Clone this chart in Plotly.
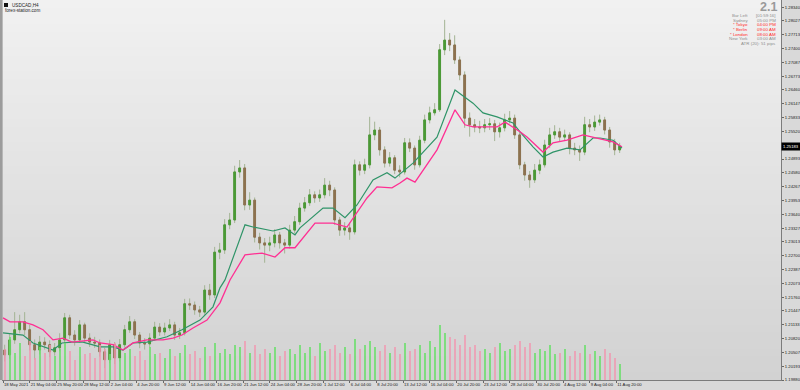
import plotly.graph_objects as go

# ---------------- data ----------------
opens = [1.2056, 1.2045, 1.2079, 1.2102, 1.2120, 1.2102, 1.2068, 1.2056, 1.2074, 1.2068,
         1.2052, 1.2061, 1.2079, 1.2129, 1.2090, 1.2079, 1.2113, 1.2083, 1.2074, 1.2072,
         1.2052, 1.2034, 1.2068, 1.2038, 1.2068, 1.2102, 1.2120, 1.2090, 1.2072, 1.2070,
         1.2083, 1.2108, 1.2097, 1.2106, 1.2113, 1.2090, 1.2095, 1.2161, 1.2158, 1.2147,
         1.2142, 1.2192, 1.2181, 1.2278, 1.2283, 1.2340, 1.2351, 1.2460, 1.2469, 1.2385,
         1.2396, 1.2312, 1.2299, 1.2294, 1.2299, 1.2317, 1.2299, 1.2294, 1.2328, 1.2347,
         1.2378, 1.2390, 1.2408, 1.2401, 1.2408, 1.2430, 1.2419, 1.2351, 1.2328, 1.2333,
         1.2324, 1.2476, 1.2464, 1.2476, 1.2544, 1.2555, 1.2510, 1.2480, 1.2492, 1.2464,
         1.2460, 1.2526, 1.2514, 1.2476, 1.2532, 1.2578, 1.2594, 1.2601, 1.2737, 1.2759,
         1.2748, 1.2714, 1.2680, 1.2582, 1.2567, 1.2562, 1.2560, 1.2567, 1.2569, 1.2551,
         1.2560, 1.2578, 1.2582, 1.2544, 1.2476, 1.2453, 1.2442, 1.2464, 1.2476, 1.2521,
         1.2544, 1.2551, 1.2539, 1.2544, 1.2514, 1.2510, 1.2505, 1.2567, 1.2562, 1.2573,
         1.2578, 1.2555, 1.2528, 1.2510]

highs = [1.2068, 1.2092, 1.2142, 1.2136, 1.2142, 1.2113, 1.2080, 1.2088, 1.2085, 1.2078,
         1.2072, 1.2094, 1.2140, 1.2136, 1.2101, 1.2124, 1.2118, 1.2094, 1.2086, 1.2080,
         1.2061, 1.2079, 1.2074, 1.2081, 1.2113, 1.2133, 1.2126, 1.2097, 1.2083, 1.2094,
         1.2120, 1.2117, 1.2118, 1.2126, 1.2120, 1.2106, 1.2172, 1.2173, 1.2166, 1.2156,
         1.2203, 1.2206, 1.2290, 1.2299, 1.2353, 1.2367, 1.2474, 1.2487, 1.2478, 1.2414,
         1.2402, 1.2322, 1.2310, 1.2313, 1.2330, 1.2324, 1.2308, 1.2340, 1.2360, 1.2390,
         1.2403, 1.2421, 1.2416, 1.2420, 1.2446, 1.2440, 1.2425, 1.2358, 1.2346, 1.2345,
         1.2488, 1.2484, 1.2490, 1.2585, 1.2574, 1.2562, 1.2518, 1.2505, 1.2498, 1.2475,
         1.2537, 1.2536, 1.2520, 1.2542, 1.2590, 1.2608, 1.2616, 1.2750, 1.2805, 1.2775,
         1.2770, 1.2722, 1.2688, 1.2595, 1.2580, 1.2576, 1.2580, 1.2582, 1.2578, 1.2572,
         1.2592, 1.2598, 1.2590, 1.2550, 1.2483, 1.2462, 1.2478, 1.2488, 1.2533, 1.2560,
         1.2566, 1.2560, 1.2556, 1.2550, 1.2526, 1.2520, 1.2585, 1.2580, 1.2588, 1.2590,
         1.2585, 1.2562, 1.2535, 1.2526]

lows = [1.2030, 1.2036, 1.2070, 1.2094, 1.2090, 1.2055, 1.2034, 1.2046, 1.2057, 1.2040,
        1.2043, 1.2053, 1.2072, 1.2081, 1.2066, 1.2072, 1.2074, 1.2063, 1.2061, 1.2041,
        1.2015, 1.2026, 1.2024, 1.2030, 1.2061, 1.2095, 1.2081, 1.2060, 1.2057, 1.2062,
        1.2077, 1.2088, 1.2089, 1.2099, 1.2079, 1.2081, 1.2089, 1.2147, 1.2136, 1.2131,
        1.2136, 1.2170, 1.2174, 1.2262, 1.2274, 1.2330, 1.2344, 1.2447, 1.2373, 1.2374,
        1.2300, 1.2284, 1.2254, 1.2280, 1.2289, 1.2286, 1.2275, 1.2286, 1.2320, 1.2340,
        1.2370, 1.2383, 1.2390, 1.2392, 1.2400, 1.2405, 1.2340, 1.2315, 1.2316, 1.2306,
        1.2318, 1.2452, 1.2455, 1.2468, 1.2532, 1.2497, 1.2470, 1.2472, 1.2455, 1.2448,
        1.2454, 1.2505, 1.2465, 1.2470, 1.2525, 1.2570, 1.2588, 1.2596, 1.2725, 1.2734,
        1.2705, 1.2668, 1.2560, 1.2540, 1.2550, 1.2548, 1.2550, 1.2555, 1.2530, 1.2538,
        1.2552, 1.2570, 1.2535, 1.2466, 1.2440, 1.2424, 1.2435, 1.2455, 1.2470, 1.2514,
        1.2535, 1.2528, 1.2530, 1.2500, 1.2498, 1.2485, 1.2498, 1.2550, 1.2553, 1.2565,
        1.2545, 1.2515, 1.2498, 1.2503]

closes = [1.2045, 1.2079, 1.2102, 1.2120, 1.2102, 1.2068, 1.2056, 1.2074, 1.2068, 1.2052,
          1.2061, 1.2079, 1.2129, 1.2090, 1.2079, 1.2113, 1.2083, 1.2074, 1.2072, 1.2052,
          1.2034, 1.2068, 1.2038, 1.2068, 1.2102, 1.2120, 1.2090, 1.2072, 1.2070, 1.2083,
          1.2108, 1.2097, 1.2106, 1.2113, 1.2090, 1.2095, 1.2161, 1.2158, 1.2147, 1.2142,
          1.2192, 1.2181, 1.2278, 1.2283, 1.2340, 1.2351, 1.2460, 1.2469, 1.2385, 1.2396,
          1.2312, 1.2299, 1.2294, 1.2299, 1.2317, 1.2299, 1.2294, 1.2328, 1.2347, 1.2378,
          1.2390, 1.2408, 1.2401, 1.2408, 1.2430, 1.2419, 1.2351, 1.2328, 1.2333, 1.2324,
          1.2476, 1.2464, 1.2476, 1.2544, 1.2555, 1.2510, 1.2480, 1.2492, 1.2464, 1.2460,
          1.2526, 1.2514, 1.2476, 1.2532, 1.2578, 1.2594, 1.2601, 1.2737, 1.2759, 1.2748,
          1.2714, 1.2680, 1.2582, 1.2567, 1.2562, 1.2560, 1.2567, 1.2569, 1.2551, 1.2560,
          1.2578, 1.2582, 1.2544, 1.2476, 1.2453, 1.2442, 1.2464, 1.2476, 1.2521, 1.2544,
          1.2551, 1.2539, 1.2544, 1.2514, 1.2510, 1.2505, 1.2567, 1.2562, 1.2573, 1.2578,
          1.2555, 1.2528, 1.2510, 1.25183]

volumes = [8000, 11000, 7000, 9500, 6000, 10000, 5500, 8500, 7000, 9000,
           6000, 8000, 9500, 7500, 5000, 8500, 6500, 7000, 5500, 9000,
           8000, 6500, 9500, 5500, 7000, 8000, 6000, 7500, 5000, 8500,
           6500, 7000, 5500, 8000, 6000, 7000, 9000, 6500, 7500, 5500,
           8500, 6000, 9500, 7000, 8000, 6500, 9000, 8500, 10000, 7000,
           9000, 6500, 8000, 7000, 8500, 6000, 7500, 8000, 6500, 9000,
           7000, 8500, 6000, 9500, 7500, 8000, 9000, 7000, 8500, 6500,
           10500, 8000, 9000, 10000, 8500, 7500, 9000, 7000, 8500, 6500,
           9500, 7500, 8000, 9000, 7000, 10000, 8500, 14000, 12000, 11000,
           10500, 9000, 11500, 8500, 9000, 7500, 8000, 7000, 8500, 9500,
           7500, 8000, 9000, 10000, 8500, 9500, 7000, 8000, 7500, 9000,
           6500, 7000, 8000, 6000, 7500, 7000, 9000, 6500, 7500, 6000,
           8000, 7000, 5500, 4000]

# green multi-timeframe MA (bar index, price)
ma_fast_bars = [0, 12, 18, 30, 35.4, 41.4, 48, 58.2, 66, 72, 78, 86.4, 98.4, 107.4, 118.2,
                126, 130.2, 133.2, 145.2, 150, 162, 169.2, 175.2, 178.2, 192, 198, 205.2,
                212.4, 222, 230.4, 235.2, 246, 260.4, 271.2, 282, 288, 296.4, 306, 310.2,
                318, 324, 330, 338.4, 346.2, 354, 358.2, 366, 371.4]
ma_fast = [1.2095, 1.2090, 1.2072, 1.2056, 1.2072, 1.2074, 1.2074, 1.2063, 1.2063, 1.2056,
           1.2072, 1.2074, 1.2086, 1.2102, 1.2124, 1.2154, 1.2197, 1.2215, 1.2340, 1.2335,
           1.2326, 1.2333, 1.2317, 1.2333, 1.2378, 1.2378, 1.2356, 1.2385, 1.2442, 1.2458,
           1.2446, 1.2480, 1.2539, 1.2646, 1.2616, 1.2594, 1.2585, 1.2571, 1.2551, 1.2517,
           1.2494, 1.2505, 1.2514, 1.2510, 1.2537, 1.2537, 1.2532, 1.2514]

# pink multi-timeframe MA (bar index, price)
ma_slow_bars = [0, 4.2, 12, 18, 24, 30, 36, 41.4, 54, 58.2, 66, 72, 78, 86.4, 96, 102, 107.4,
                114, 122.4, 130.2, 136.2, 145.2, 155.4, 163.2, 169.2, 175.2, 187.2, 198,
                206.4, 218.4, 224.4, 233.4, 238.2, 242.4, 247.2, 260.4, 271.2, 277.2, 282,
                296.4, 301.2, 306, 310.2, 314.4, 324, 330, 338.4, 348, 355.2, 366, 371.4]
ma_slow = [1.2129, 1.2120, 1.2120, 1.2113, 1.2102, 1.2079, 1.2083, 1.2074, 1.2079, 1.2072,
           1.2068, 1.2056, 1.2072, 1.2079, 1.2079, 1.2083, 1.2090, 1.2106, 1.2124, 1.2163,
           1.2215, 1.2272, 1.2276, 1.2267, 1.2288, 1.2288, 1.2344, 1.2344, 1.2335, 1.2401,
           1.2426, 1.2424, 1.2435, 1.2446, 1.2437, 1.2510, 1.2601, 1.2567, 1.2562, 1.2562,
           1.2573, 1.2562, 1.2551, 1.2539, 1.2505, 1.2526, 1.2532, 1.2544, 1.2537, 1.2528,
           1.2517]

time_labels = ["18 May 2021", "21 May 04:00", "25 May 20:00", "28 May 12:00", "2 Jun 04:00",
               "4 Jun 20:00", "9 Jun 12:00", "14 Jun 04:00", "16 Jun 20:00", "21 Jun 12:00",
               "24 Jun 04:00", "28 Jun 20:00", "1 Jul 12:00", "6 Jul 04:00", "8 Jul 20:00",
               "13 Jul 12:00", "16 Jul 04:00", "20 Jul 20:00", "23 Jul 12:00", "28 Jul 04:00",
               "30 Jul 20:00", "4 Aug 12:00", "9 Aug 04:00", "11 Aug 20:00"]
time_label_bars = list(range(0, 16 * len(time_labels), 16))

# price scale labels (the one hidden under the current-price box is omitted)
price_ticks = [1.28340, 1.28027, 1.27713, 1.27400, 1.27087, 1.26773, 1.26460, 1.26147,
               1.25833, 1.25520, 1.24893, 1.24580, 1.24267, 1.23953, 1.23640,
               1.23327, 1.23013, 1.22700, 1.22387, 1.22073, 1.21760, 1.21447, 1.21133,
               1.20820, 1.20507, 1.20193, 1.19880]

current_price = 1.25183
symbol = "USDCAD,H4"
site = "forex-station.com"
spread = "2.1"
info_rows = [("Bar Left", "[01:59:16]", "grey"), ("Sydney", "05:00 PM", "grey"),
             ("* Tokyo", "04:00 PM", "red"), ("* Berlin", "09:00 AM", "red"),
             ("* London", "08:00 AM", "red"), ("New York", "03:00 AM", "grey")]
atr_text = "ATR (20): 51 pips"

# ---------------- figure ----------------
W, H = 800, 390
ML, MR, MT, MB = 2, 19, 0, 10
FONT = "Liberation Sans, Arial, sans-serif"
FS = 4.2

bar_pos = [3 * i + 1 for i in range(len(closes))]
body_hi = [max(o, c) for o, c in zip(opens, closes)]
body_lo = [min(o, c) for o, c in zip(opens, closes)]
vol_colors = ["rgba(105,222,105,0.80)" if c >= o else "rgba(242,150,175,0.75)"
              for o, c in zip(opens, closes)]

fig = go.Figure()

wick = "#a3b394"
fig.add_trace(go.Candlestick(x=bar_pos, open=opens, high=highs, low=lows, close=closes,
                             yaxis="y", whiskerwidth=0,
                             increasing=dict(line=dict(color=wick, width=1), fillcolor=wick),
                             decreasing=dict(line=dict(color=wick, width=1), fillcolor=wick),
                             hoverinfo="skip", showlegend=False))
fig.add_trace(go.Candlestick(x=bar_pos, open=opens, high=body_hi, low=body_lo, close=closes,
                             yaxis="y", whiskerwidth=0,
                             increasing=dict(line=dict(color="#4b9a36", width=1), fillcolor="#4b9a36"),
                             decreasing=dict(line=dict(color="#8d7150", width=1), fillcolor="#8d7150"),
                             hoverinfo="skip", showlegend=False))

fig.add_trace(go.Scatter(x=ma_fast_bars, y=ma_fast, mode="lines", yaxis="y",
                         line=dict(color="#2f9468", width=1.2), hoverinfo="skip", showlegend=False))
fig.add_trace(go.Scatter(x=ma_slow_bars, y=ma_slow, mode="lines", yaxis="y",
                         line=dict(color="#ff2f93", width=1.3), hoverinfo="skip", showlegend=False))

fig.add_trace(go.Bar(x=bar_pos, y=volumes, width=1.3, yaxis="y2", xaxis="x",
                     marker=dict(color=vol_colors, line=dict(width=0)),
                     hoverinfo="skip", showlegend=False))

# background gradient (light top -> darker bottom)
shapes = []
N = 48
top_c, bot_c = (241, 241, 241), (210, 210, 210)
for k in range(N):
    t = k / (N - 1)
    col = tuple(round(bot_c[j] + (top_c[j] - bot_c[j]) * t) for j in range(3))
    shapes.append(dict(type="rect", xref="paper", yref="paper", x0=0, x1=1,
                       y0=k / N, y1=(k + 1) / N + 0.002, layer="below",
                       line=dict(width=0), fillcolor="rgb(%d,%d,%d)" % col))
# left border strip
shapes.append(dict(type="rect", xref="paper", yref="paper", x0=-0.0026, x1=0.0008, y0=0, y1=1,
                   line=dict(width=0), fillcolor="#9c9c9c", layer="above"))
# symbol icon
shapes.append(dict(type="rect", xref="paper", yref="paper", xsizemode="pixel", ysizemode="pixel",
                   xanchor=0, yanchor=1, x0=2, x1=6, y0=-3, y1=-7,
                   line=dict(width=0), fillcolor="#111111"))

ann = []
ann.append(dict(xref="paper", yref="paper", x=0, y=1, xanchor="left", yanchor="middle",
                xshift=8, yshift=-5, text=symbol, showarrow=False,
                font=dict(family=FONT, size=4.6, color="#222222")))
ann.append(dict(xref="paper", yref="paper", x=0, y=1, xanchor="left", yanchor="middle",
                xshift=1, yshift=-10.5, text=site, showarrow=False,
                font=dict(family=FONT, size=4.6, color="#222222")))
ann.append(dict(xref="paper", yref="paper", x=1, y=1, xanchor="right", yanchor="top",
                xshift=-2, yshift=2, text="<b>" + spread + "</b>", showarrow=False,
                font=dict(family=FONT, size=12.5, color="#9a9a9a")))
colmap = {"grey": "#8e8e8e", "red": "#ff2a2a"}
row_y = [15.5, 20, 24.5, 29, 34, 38.5]
for (lab, val, c), yy in zip(info_rows, row_y):
    ann.append(dict(xref="paper", yref="paper", x=1, y=1, xanchor="right", yanchor="middle",
                    xshift=-31, yshift=-yy, text=lab, showarrow=False,
                    font=dict(family=FONT, size=4.4, color=colmap[c])))
    ann.append(dict(xref="paper", yref="paper", x=1, y=1, xanchor="right", yanchor="middle",
                    xshift=-3, yshift=-yy, text=val, showarrow=False,
                    font=dict(family=FONT, size=4.4, color=colmap[c])))
ann.append(dict(xref="paper", yref="paper", x=1, y=1, xanchor="right", yanchor="middle",
                xshift=-3, yshift=-43.5, text=atr_text, showarrow=False,
                font=dict(family=FONT, size=4.4, color=colmap["grey"])))
ann.append(dict(xref="paper", yref="y", x=1, y=current_price, xanchor="left", yanchor="middle",
                xshift=0, text="%.5f" % current_price, showarrow=False, bgcolor="#000000",
                borderpad=1, font=dict(family=FONT, size=FS, color="#ffffff")))

vmax = max(volumes)
fig.update_layout(
    width=W, height=H, margin=dict(l=ML, r=MR, t=MT, b=MB),
    paper_bgcolor="#d9d9d9", plot_bgcolor="rgba(0,0,0,0)",
    showlegend=False, boxgap=0.5, boxmode="overlay", bargap=0, dragmode=False,
    shapes=shapes, annotations=ann,
    xaxis=dict(range=[-0.6, 466.8], tickvals=time_label_bars, ticktext=time_labels,
               tickangle=0, ticklabelposition="outside right", ticks="outside", ticklen=2,
               ticklabelstandoff=0,
               tickcolor="#666666", tickfont=dict(family=FONT, size=FS, color="#222222"),
               showgrid=False, zeroline=False, showline=True, linecolor="#7c7c7c",
               linewidth=1, rangeslider=dict(visible=False), fixedrange=True),
    yaxis=dict(side="right", range=[1.1988, 1.2850],
               tickvals=price_ticks, ticktext=["%.5f" % v for v in price_ticks],
               ticks="outside", ticklen=2, tickcolor="#666666", ticklabelstandoff=0,
               tickfont=dict(family=FONT, size=FS, color="#222222"),
               showgrid=False, zeroline=False, showline=True, linecolor="#7c7c7c",
               linewidth=1, fixedrange=True),
    yaxis2=dict(overlaying="y", range=[0, vmax * 380 / 55], visible=False, fixedrange=True),
)

fig.write_html("out.html", config={"displayModeBar": False},
               post_script="document.body.style.margin='0';document.body.style.overflow='hidden';")
